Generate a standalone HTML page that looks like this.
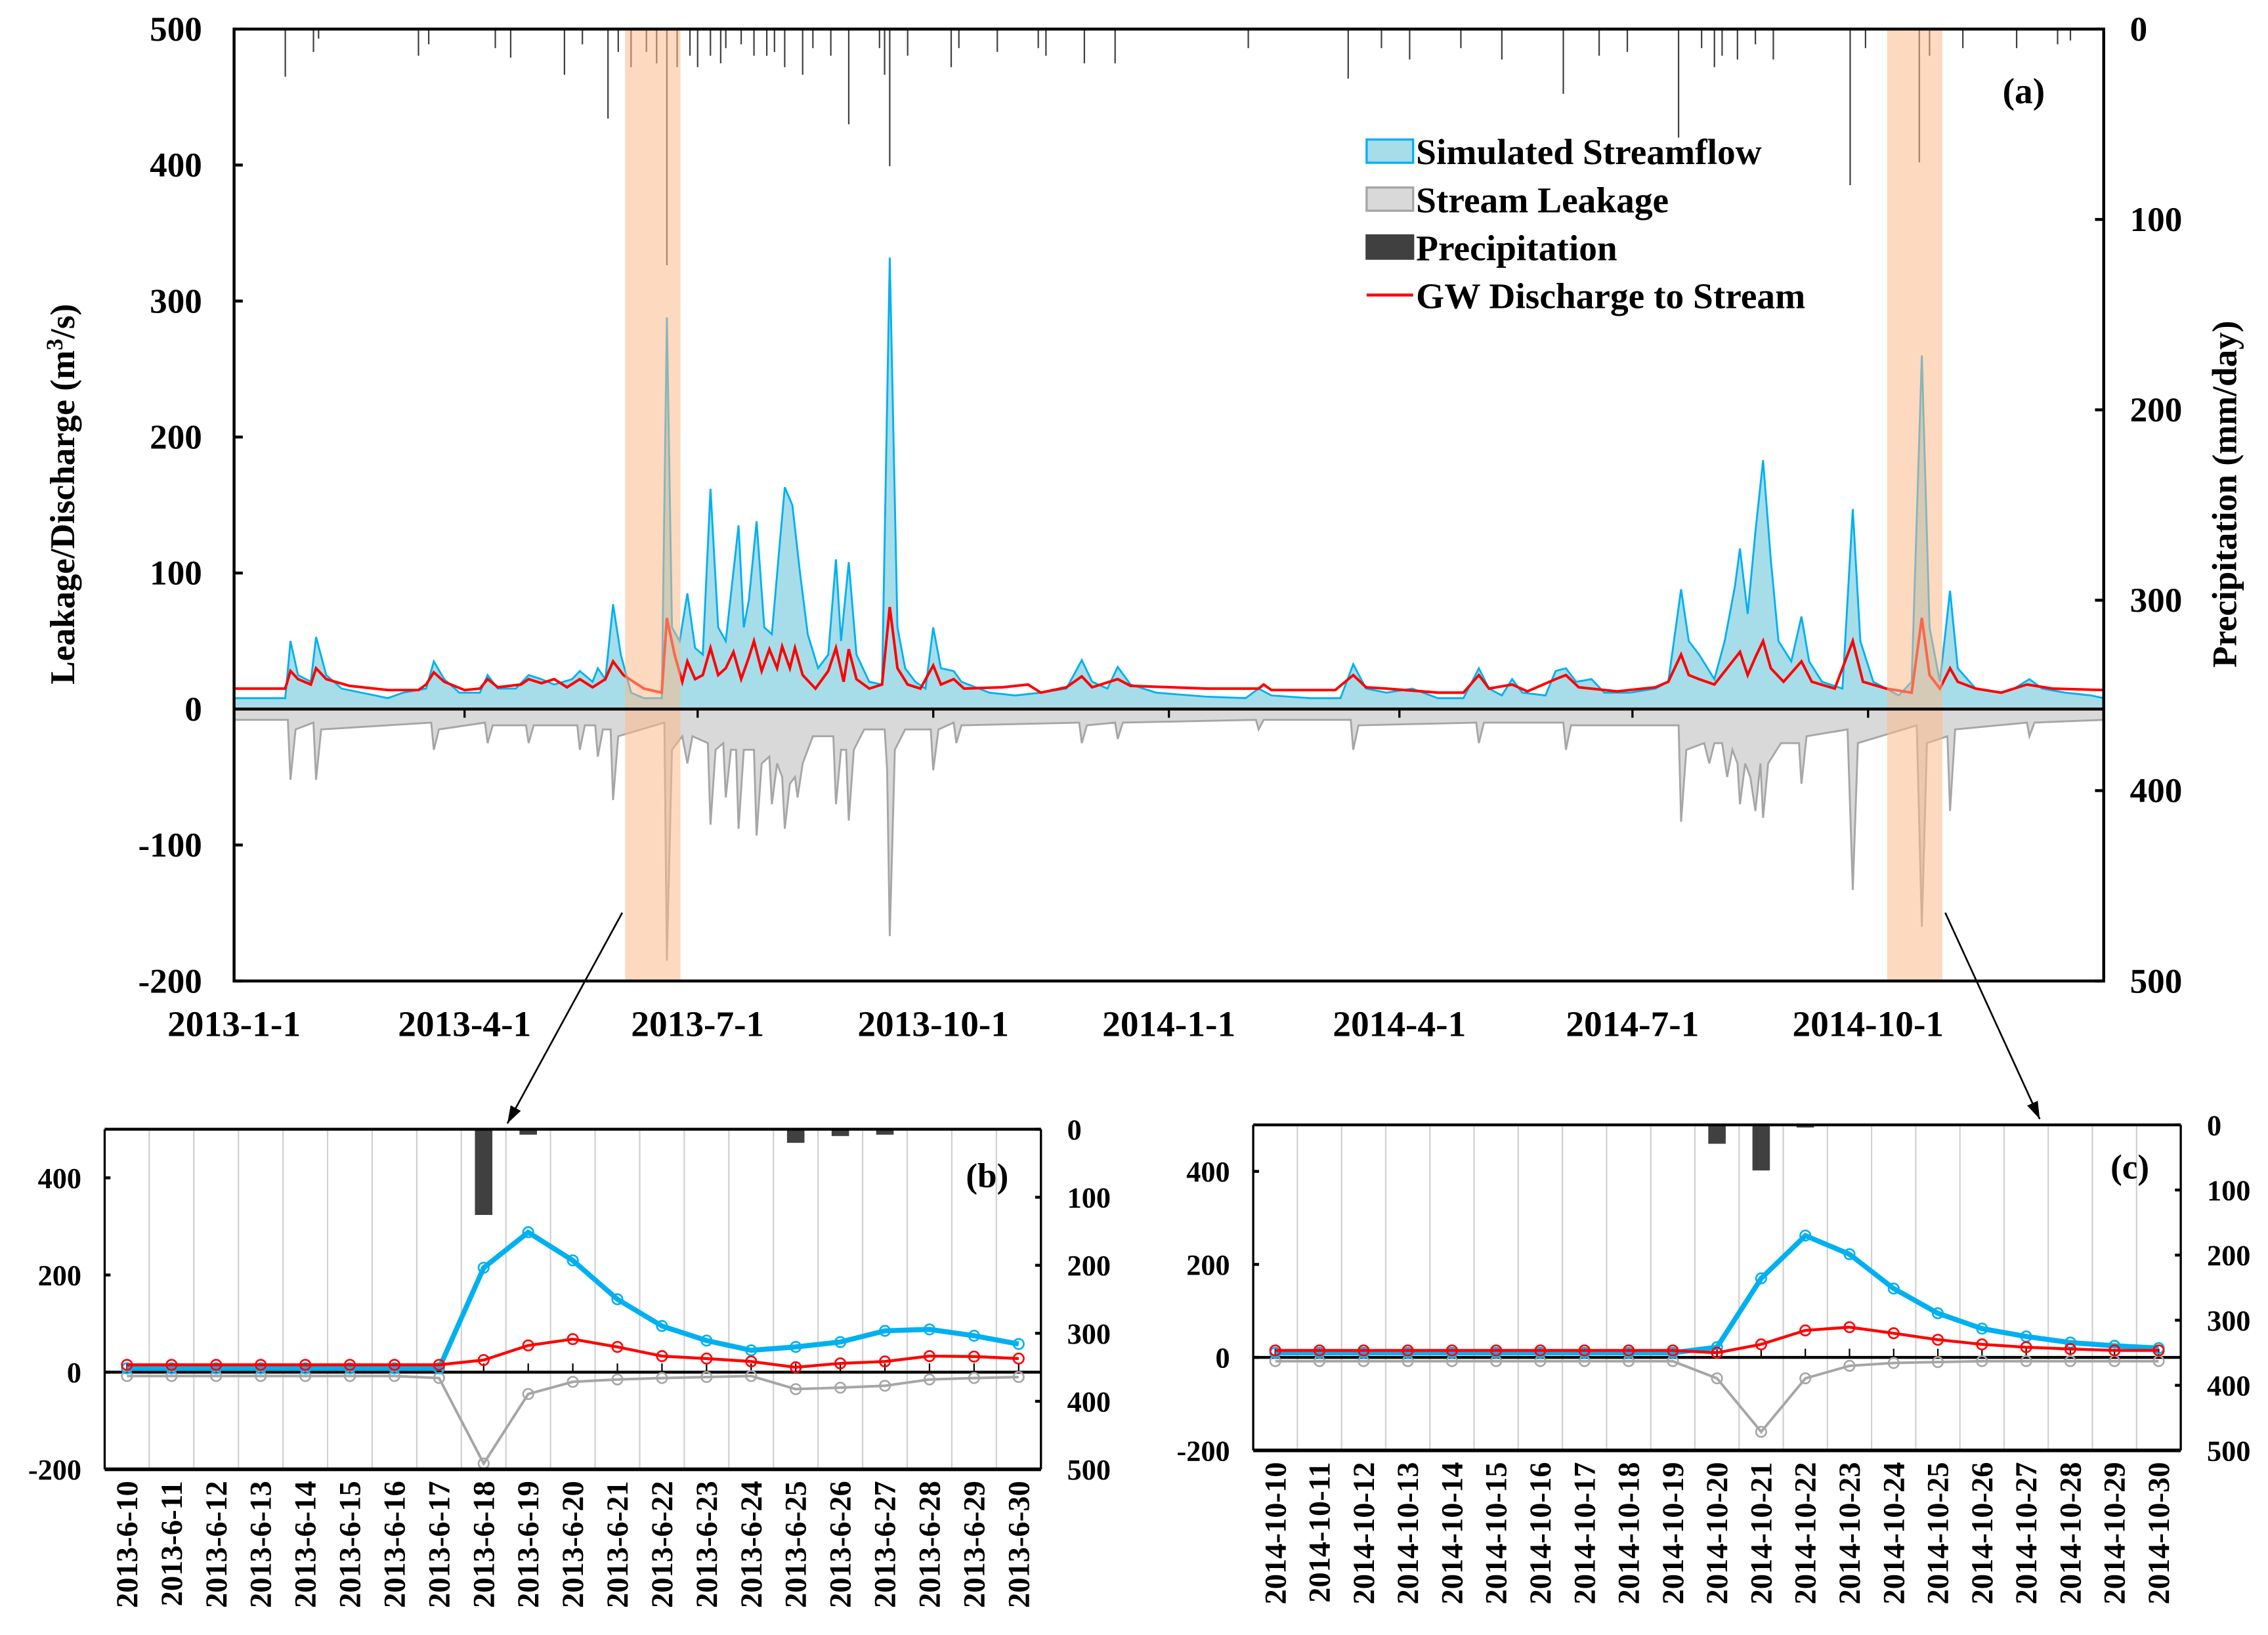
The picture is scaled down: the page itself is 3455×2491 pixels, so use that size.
<!DOCTYPE html>
<html><head><meta charset="utf-8">
<style>
html,body{margin:0;padding:0;background:#fff;}
svg{display:block;}
text{font-family:"Liberation Serif",serif;font-weight:bold;fill:#000;}
</style></head>
<body>
<svg id="fig" xmlns="http://www.w3.org/2000/svg" width="3455" height="2491" viewBox="0 0 1560 1125" preserveAspectRatio="none">
</svg>
<script>
// ===== Main chart (a) data =====
const mainXTickLabels = ["2013-1-1","2013-4-1","2013-7-1","2013-10-1","2014-1-1","2014-4-1","2014-7-1","2014-10-1"];
const mainXTickDays = [0,90,181,273,365,455,546,638];
const mainYTicks = [500,400,300,200,100,0,-100,-200];
const mainPTicks = [0,100,200,300,400,500];
const flowDays = [0,20,22,25,30,32,36,42,55,60,66,75,78,82,88,96,99,103,110,115,120,125,132,135,140,142,145,148,151,155,160,167,169,171,174,177,180,183,186,189,192,197,199,201,204,207,210,213,215,218,221,224,228,232,235,237,240,243,248,253,256,259,262,266,270,273,276,281,284,295,305,315,325,331,335,341,345,350,360,380,395,400,405,420,432,437,442,450,460,470,480,486,490,495,499,503,512,516,520,524,530,535,545,555,560,565,568,572,578,582,586,588,591,594,597,600,603,608,612,615,620,628,632,635,640,650,655,659,662,666,670,673,680,690,695,701,706,715,725,730];
const flowVals = [8,8,50,25,20,53,25,15,10,8,12,15,35,22,12,12,25,15,15,25,22,18,22,28,20,30,22,77,40,12,8,8,288,60,50,85,45,40,162,60,50,135,60,80,138,60,55,120,163,150,100,55,30,40,110,50,108,40,20,18,332,60,30,20,15,60,30,28,20,12,10,12,15,36,20,15,31,18,12,9,8,15,10,8,8,33,15,12,15,8,8,30,15,10,22,12,10,28,30,20,22,12,12,15,20,88,50,40,22,50,90,118,70,130,183,110,50,35,68,35,20,15,147,50,20,10,20,260,60,20,87,30,15,12,15,22,15,12,10,8];
const leakDays = [0,21,22,24,31,32,34,77,78,80,98,99,101,114,115,117,134,135,137,141,142,144,147,148,150,168,169,171,175,177,179,185,186,188,191,192,194,196,197,199,203,204,206,209,210,212,214,215,217,219,220,222,226,234,235,237,239,240,242,246,254,255,256,258,262,272,273,275,281,282,284,330,331,333,344,345,347,399,400,402,436,437,439,485,486,488,519,520,522,564,565,567,574,576,578,581,583,585,587,588,590,592,594,596,597,599,604,611,612,614,630,632,634,657,659,661,669,670,672,700,701,703,730];
const leakVals = [-8,-8,-52,-15,-10,-52,-15,-10,-30,-15,-10,-25,-12,-12,-25,-12,-12,-30,-12,-12,-35,-15,-15,-67,-20,-10,-185,-30,-20,-40,-20,-25,-85,-30,-25,-65,-30,-30,-88,-30,-30,-93,-40,-35,-70,-40,-50,-88,-55,-50,-65,-40,-20,-20,-70,-30,-30,-82,-30,-15,-15,-45,-167,-30,-15,-15,-45,-15,-10,-25,-12,-10,-25,-12,-10,-22,-10,-8,-15,-8,-8,-30,-12,-10,-25,-10,-10,-30,-12,-12,-83,-30,-25,-40,-25,-25,-50,-30,-40,-70,-40,-50,-75,-40,-80,-40,-25,-25,-55,-20,-15,-133,-25,-12,-160,-25,-20,-75,-15,-10,-20,-10,-8];
const gwDays = [0,20,22,25,30,32,36,45,60,72,75,78,82,90,96,99,103,112,115,120,125,130,135,140,145,148,152,160,167,169,172,175,177,180,183,186,189,192,195,198,201,203,206,209,212,214,217,219,222,227,232,235,238,240,243,248,253,256,259,263,268,273,276,281,285,300,310,315,325,331,335,345,350,380,400,402,405,430,437,442,450,470,480,486,490,499,505,516,520,525,540,555,560,565,568,572,578,583,588,591,594,597,600,605,612,616,625,632,636,645,655,659,662,666,670,673,680,690,700,710,730];
const gwVals = [15,15,28,22,18,30,22,17,14,14,18,27,20,14,15,22,16,18,22,19,22,16,22,16,22,35,25,15,12,67,40,20,35,22,25,45,25,30,42,22,38,50,28,44,30,46,30,45,25,15,28,45,20,44,22,15,18,75,30,18,15,32,18,22,15,16,18,12,16,24,16,22,17,15,15,18,14,14,25,16,15,12,12,25,15,18,13,22,25,16,13,16,20,40,25,22,18,30,42,25,38,50,30,20,35,20,15,50,20,15,12,67,25,15,30,20,15,12,18,15,14];
const precipDays = [20,31,33,72,76,102,108,129,136,146,150,155,161,165,169,173,178,181,186,190,192,198,203,208,211,215,222,226,233,240,252,254,256,263,280,283,298,314,317,332,344,396,435,448,459,479,495,519,533,544,564,573,578,581,587,594,601,631,637,658,662,675,696,712,717];
const precipVals = [25,12,5,14,8,10,15,24,8,47,12,20,12,18,124,20,14,20,14,18,10,8,14,14,12,20,24,10,14,50,10,24,72,14,20,10,12,10,14,18,18,10,26,10,16,10,16,34,14,12,57,10,20,14,16,8,16,82,10,70,14,10,10,8,6];

// ===== Panel (b) data =====
const bDates = ["2013-6-10","2013-6-11","2013-6-12","2013-6-13","2013-6-14","2013-6-15","2013-6-16","2013-6-17","2013-6-18","2013-6-19","2013-6-20","2013-6-21","2013-6-22","2013-6-23","2013-6-24","2013-6-25","2013-6-26","2013-6-27","2013-6-28","2013-6-29","2013-6-30"];
const bFlow = [8,8,8,8,8,8,8,8,215,288,230,150,95,65,45,52,62,85,88,75,58];
const bGw = [15,15,15,15,15,15,15,15,25,55,68,52,33,28,22,10,18,22,33,32,28];
const bLeak = [-8,-8,-8,-8,-8,-8,-8,-12,-188,-45,-20,-15,-12,-10,-8,-35,-32,-28,-15,-12,-10];
const bPrecip = [0,0,1,0,0,1,0,2,126,8,0,0,1,0,0,20,10,8,1,0,0];

// ===== Panel (c) data =====
const cDates = ["2014-10-10","2014-10-11","2014-10-12","2014-10-13","2014-10-14","2014-10-15","2014-10-16","2014-10-17","2014-10-18","2014-10-19","2014-10-20","2014-10-21","2014-10-22","2014-10-23","2014-10-24","2014-10-25","2014-10-26","2014-10-27","2014-10-28","2014-10-29","2014-10-30"];
const cFlow = [10,10,10,10,10,10,10,10,10,10,22,170,262,222,148,95,62,45,32,25,20];
const cGw = [15,15,15,15,15,15,15,15,15,15,10,28,58,65,52,38,28,22,18,15,15];
const cLeak = [-8,-8,-8,-8,-8,-8,-8,-8,-8,-8,-45,-160,-45,-18,-12,-10,-8,-8,-8,-8,-8];
const cPrecip = [0,0,0,0,0,1,0,0,0,0,29,70,4,0,0,0,0,0,0,0,0];

const NS = "http://www.w3.org/2000/svg";
const svg = document.getElementById('fig');
function mk(tag, attrs, parent, txt){
  const e = document.createElementNS(NS, tag);
  for (const k in attrs) e.setAttribute(k, attrs[k]);
  if (txt !== undefined) e.textContent = txt;
  (parent || svg).appendChild(e);
  return e;
}

// ---------- Main chart ----------
const M = {l:161, r:1447, t:20, b:675};
const xD = d => M.l + d * (M.r - M.l) / 730;
const yV = v => M.t + (500 - v) * (M.b - M.t) / 700;
const yP = p => M.t + p * (M.b - M.t) / 500;

const gMain = mk('g', {});



let d = 'M' + xD(flowDays[0]) + ',' + yV(0);
flowDays.forEach((dd, i) => { d += ' L' + xD(dd).toFixed(1) + ',' + yV(flowVals[i]).toFixed(1); });
d += ' L' + xD(flowDays[flowDays.length-1]) + ',' + yV(0) + ' Z';
const flowArea = mk('path', {d:d, fill:'#a6dde9', stroke:'#00b0f0', 'stroke-width':1.3}, gMain);



d = 'M' + xD(leakDays[0]) + ',' + yV(0);
leakDays.forEach((dd, i) => { d += ' L' + xD(dd).toFixed(1) + ',' + yV(leakVals[i]).toFixed(1); });
d += ' L' + xD(leakDays[leakDays.length-1]) + ',' + yV(0) + ' Z';
const leakArea = mk('path', {d:d, fill:'#d9d9d9', stroke:'#a6a6a6', 'stroke-width':1.3}, gMain);



d = '';
gwDays.forEach((dd, i) => { d += (i ? ' L' : 'M') + xD(dd).toFixed(1) + ',' + yV(gwVals[i]).toFixed(1); });
const gwLine = mk('path', {d:d, fill:'none', stroke:'#ff0000', 'stroke-width':1.8}, gMain);



precipDays.forEach((dd, i) => {
  const r = mk('rect', {x:xD(dd)-0.5, y:M.t, width:1, height:yP(precipVals[i]) - M.t, fill:'#404040'}, gMain);
  
  
});

[0,1].forEach(i => {
  const r = mk('rect', {x:i ? 1298 : 430, y:M.t, width:38, height:M.b - M.t, fill:'#f9b98a', opacity:0.55}, gMain);
  
  
});

const zl = mk('line', {x1:M.l, x2:M.r, y1:yV(0), y2:yV(0), stroke:'#000', 'stroke-width':2}, gMain);


const fr = mk('rect', {x:M.l, y:M.t, width:M.r - M.l, height:M.b - M.t, fill:'none', stroke:'#000', 'stroke-width':2}, gMain);



mainYTicks.forEach(v => {
  mk('line', {x1:M.l, x2:M.l + 6, y1:yV(v), y2:yV(v), stroke:'#000', 'stroke-width':2}, gMain);
  const t = mk('text', {x:M.l - 22, y:yV(v) + 8, 'text-anchor':'end', 'font-size':24}, gMain, String(v));
  
  
});
mainPTicks.forEach(p => {
  mk('line', {x1:M.r - 6, x2:M.r, y1:yP(p), y2:yP(p), stroke:'#000', 'stroke-width':2}, gMain);
  const t = mk('text', {x:M.r + 18, y:yP(p) + 8, 'text-anchor':'start', 'font-size':24}, gMain, String(p));
  
  
});
mainXTickDays.forEach((dd, i) => {
  mk('line', {x1:xD(dd), x2:xD(dd), y1:yV(0), y2:yV(0) + 6, stroke:'#000', 'stroke-width':1.5}, gMain);
  const t = mk('text', {x:xD(dd), y:M.b + 38, 'text-anchor':'middle', 'font-size':25}, gMain, mainXTickLabels[i]);
  
  
});

const yt = mk('text', {x:0, y:0, transform:'translate(51,340) rotate(-90)', 'text-anchor':'middle', 'font-size':24}, svg);
yt.innerHTML = 'Leakage/Discharge (m<tspan dy="-8" font-size="16">3</tspan><tspan dy="8">/s)</tspan>';


const pt = mk('text', {x:0, y:0, transform:'translate(1538,340) rotate(-90)', 'text-anchor':'middle', 'font-size':24}, svg, 'Precipitation (mm/day)');


const la = mk('text', {x:1392, y:71, 'text-anchor':'middle', 'font-size':25}, svg, '(a)');



const legend = mk('g', {});


const legItems = [
  ['Simulated Streamflow', 'rect', '#a6dde9', '#00b0f0'],
  ['Stream Leakage', 'rect', '#d9d9d9', '#a6a6a6'],
  ['Precipitation', 'rect', '#404040', '#404040'],
  ['GW Discharge to Stream', 'line', '#ff0000', '#ff0000']
];
legItems.forEach((it, i) => {
  const y = 104 + i * 33;
  const g = mk('g', {}, legend);
  
  
  if (it[1] === 'rect') mk('rect', {x:940, y:y - 8, width:32, height:16, fill:it[2], stroke:it[3], 'stroke-width':1.5}, g);
  else mk('line', {x1:940, x2:972, y1:y, y2:y, stroke:it[2], 'stroke-width':2}, g);
  mk('text', {x:974, y:y + 9, 'font-size':25}, g, it[0]);
});

function arrow(x1, y1, x2, y2, name){
  const g = mk('g', {});
  
  
  mk('line', {x1:x1, y1:y1, x2:x2, y2:y2, stroke:'#000', 'stroke-width':1.2}, g);
  const a = Math.atan2(y2 - y1, x2 - x1), L = 12, W = 4;
  const bx = x2 - L * Math.cos(a), by = y2 - L * Math.sin(a);
  mk('polygon', {points:`${x2},${y2} ${bx - W*Math.sin(a)},${by + W*Math.cos(a)} ${bx + W*Math.sin(a)},${by - W*Math.cos(a)}`, fill:'#000'}, g);
}
arrow(428, 628, 349, 773, 'arrow-to-panel-b');
arrow(1338, 628, 1403, 770, 'arrow-to-panel-c');

function panel(P, dates, flow, gw, leak, prec, label, lx, ly){
  const g = mk('g', {});
  
  
  const n = dates.length;
  const step = (P.r - P.l) / n;
  const x = i => P.l + step * (i + 0.5);
  const y = v => P.t + (500 - v) * (P.b - P.t) / 700;
  const yp = p => P.t + p * (P.b - P.t) / 500;
  for (let i = 1; i < n; i++) mk('line', {x1:P.l + step*i, x2:P.l + step*i, y1:P.t, y2:P.b, stroke:'#d0d0d0', 'stroke-width':1}, g);
  prec.forEach((p, i) => {
    if (p <= 0) return;
    const r = mk('rect', {x:x(i) - 6, y:P.t, width:12, height:yp(p) - P.t, fill:'#404040'}, g);
    
    
  });
  mk('line', {x1:P.l, x2:P.r, y1:y(0), y2:y(0), stroke:'#000', 'stroke-width':2}, g);
  for (let i = 0; i < n; i++) mk('line', {x1:x(i), x2:x(i), y1:y(0), y2:y(0) - 6, stroke:'#000', 'stroke-width':1}, g);
  const series = [[leak, '#a6a6a6', 1.8, 'leakage-line'], [flow, '#00b0f0', 3.5, 'streamflow-line'], [gw, '#ff0000', 2, 'gw-discharge-line']];
  series.forEach(s => {
    const pts = s[0].map((v, i) => x(i).toFixed(1) + ',' + y(v).toFixed(1)).join(' ');
    const pl = mk('polyline', {points:pts, fill:'none', stroke:s[1], 'stroke-width':s[2]}, g);
    
    
    s[0].forEach((v, i) => mk('circle', {cx:x(i), cy:y(v), r:3.5, fill:'none', stroke:s[1], 'stroke-width':1.2}, g));
  });
  mk('line', {x1:P.l, x2:P.r, y1:P.t, y2:P.t, stroke:'#000', 'stroke-width':2}, g);
  mk('line', {x1:P.l, x2:P.r, y1:P.b, y2:P.b, stroke:'#000', 'stroke-width':2.5}, g);
  mk('line', {x1:P.l, x2:P.l, y1:P.t, y2:P.b, stroke:'#000', 'stroke-width':1.5}, g);
  mk('line', {x1:P.r, x2:P.r, y1:P.t, y2:P.b, stroke:'#000', 'stroke-width':1.5}, g);
  [400, 200, 0, -200].forEach(v => {
    mk('line', {x1:P.l, x2:P.l + 4, y1:y(v), y2:y(v), stroke:'#000', 'stroke-width':2}, g);
    const t = mk('text', {x:P.l - 16, y:y(v) + 7, 'text-anchor':'end', 'font-size':20}, g, String(v));
    
    
  });
  [0, 100, 200, 300, 400, 500].forEach(p => {
    mk('line', {x1:P.r - 4, x2:P.r, y1:yp(p), y2:yp(p), stroke:'#000', 'stroke-width':2}, g);
    const t = mk('text', {x:P.r + 18, y:yp(p) + 7, 'text-anchor':'start', 'font-size':20}, g, String(p));
    
    
  });
  dates.forEach((s, i) => {
    const t = mk('text', {x:0, y:0, transform:`translate(${x(i) + 7},${P.b + 8}) rotate(-90)`, 'text-anchor':'end', 'font-size':21}, g, s);
    
    
  });
  const lt = mk('text', {x:lx, y:ly, 'text-anchor':'middle', 'font-size':24}, g, '(' + label + ')');
  
  
}
panel({l:72, r:716, t:777, b:1011}, bDates, bFlow, bGw, bLeak, bPrecip, 'b', 679, 817);
panel({l:862, r:1500, t:774, b:998}, cDates, cFlow, cGw, cLeak, cPrecip, 'c', 1465, 811);
</script>
</body></html>
